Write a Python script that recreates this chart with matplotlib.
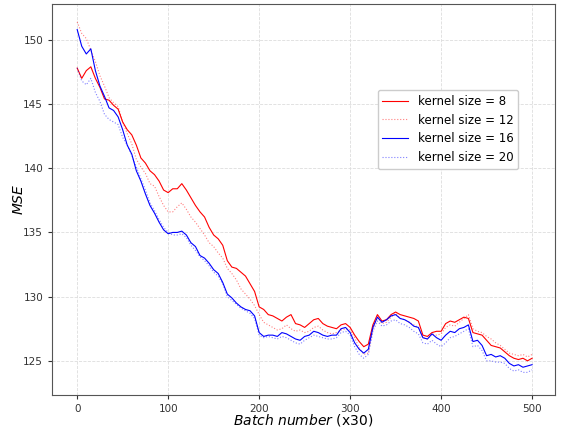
import matplotlib
matplotlib.use("Agg")
import matplotlib.pyplot as plt
import numpy as np

# batch index (x30), sampled every 5 batches
batches = list(range(0, 505, 5))

mse_k8 = [
    147.8, 147.0, 147.6, 147.9, 147.0, 146.3, 145.4, 145.3, 144.9, 144.6,
    143.6, 143.0, 142.6, 141.8, 140.8, 140.4, 139.8, 139.5, 139.0, 138.3,
    138.1, 138.4, 138.4, 138.8, 138.3, 137.7, 137.1, 136.6, 136.2, 135.4,
    134.8, 134.5, 134.0, 132.8, 132.3, 132.2, 131.9, 131.6, 131.0, 130.4,
    129.2, 129.0, 128.6, 128.5, 128.3, 128.1, 128.4, 128.6, 127.9, 127.8,
    127.6, 127.9, 128.2, 128.3, 127.9, 127.7, 127.6, 127.5, 127.8, 127.9,
    127.6, 127.0, 126.5, 126.1, 126.3, 127.8, 128.6, 128.1, 128.2, 128.6,
    128.8, 128.6, 128.5, 128.4, 128.3, 128.1, 127.0, 126.9, 127.2, 127.3,
    127.3, 127.9, 128.1, 128.0, 128.2, 128.4, 128.3, 127.2, 127.1, 127.0,
    126.6, 126.2, 126.1, 126.0, 125.7, 125.4, 125.2, 125.1, 125.2, 125.0,
    125.2,
]

mse_k12 = [
    151.4, 150.5, 150.1, 149.2, 148.3, 147.2, 146.4, 145.5, 145.1, 144.8,
    143.6, 142.7, 141.9, 140.7, 140.1, 139.6, 138.8, 138.6, 137.8, 137.1,
    136.6, 136.6, 137.0, 137.3, 136.8, 136.2, 135.8, 135.3, 134.8, 134.2,
    133.9, 133.4, 133.0, 132.2, 131.8, 131.3, 130.6, 130.2, 129.8, 129.3,
    128.6, 128.0, 127.8, 127.6, 127.4, 127.5, 127.8, 127.5, 127.3, 127.4,
    127.2, 127.3, 127.6, 127.7, 127.4, 127.2, 127.1, 127.2, 127.4, 127.5,
    127.4, 126.8, 126.0, 125.5, 125.6, 127.4, 128.4, 127.9, 128.0, 128.4,
    128.7, 128.3, 128.2, 128.0, 127.8, 127.6, 126.8, 126.7, 127.1, 127.0,
    127.1, 127.6, 127.8, 127.7, 128.0, 128.3, 128.6, 127.5, 127.3, 127.2,
    126.9, 126.7, 126.4, 126.2, 125.9, 125.6, 125.5, 125.4, 125.5, 125.3,
    125.5,
]

mse_k16 = [
    150.8, 149.5, 148.9, 149.3, 147.6, 146.4, 145.6, 144.7, 144.5, 144.0,
    143.0, 141.8, 141.1, 139.8, 139.0, 138.0, 137.1, 136.5, 135.8, 135.2,
    134.9, 135.0, 135.0, 135.1, 134.8, 134.2, 133.9, 133.2, 133.0, 132.6,
    132.1, 131.8, 131.1, 130.2, 129.9, 129.5, 129.2, 129.0, 128.9, 128.5,
    127.2, 126.9, 127.0, 127.0, 126.9, 127.2, 127.1, 126.9, 126.7, 126.6,
    126.9, 127.0, 127.3, 127.2, 127.0, 126.9, 127.0, 127.0, 127.5, 127.6,
    127.2, 126.4, 125.9, 125.6, 125.9, 127.6, 128.4, 128.0, 128.2, 128.5,
    128.6, 128.3, 128.2, 128.0, 127.7, 127.6, 126.8, 126.7, 127.1, 126.8,
    126.6, 127.0, 127.3, 127.2, 127.5, 127.6, 127.8, 126.5, 126.6, 126.2,
    125.4, 125.5, 125.3, 125.4, 125.2, 124.8, 124.6, 124.7, 124.5, 124.6,
    124.7,
]

mse_k20 = [
    147.8, 146.8, 146.5, 147.0, 145.9, 145.2, 144.2, 143.8, 143.6, 143.4,
    142.4, 141.8, 141.0, 140.1, 139.2, 138.3, 137.3, 136.7, 136.0, 135.4,
    135.0, 134.8, 134.8, 134.9, 134.6, 134.0, 133.6, 133.1, 132.8, 132.4,
    131.9, 131.6, 131.0, 130.0, 129.7, 129.4, 129.1, 128.9, 128.7, 128.3,
    127.0, 126.8, 126.9, 126.8, 126.7, 126.9, 126.8, 126.6, 126.4, 126.3,
    126.6, 126.8, 127.0, 126.9, 126.8, 126.7, 126.7, 126.8, 127.2, 127.3,
    127.0, 126.1, 125.5, 125.2, 125.5, 127.3, 128.1, 127.7, 127.8, 128.1,
    128.2, 127.9, 127.8, 127.6, 127.3, 127.1, 126.4, 126.3, 126.6, 126.3,
    126.1, 126.4, 126.8, 126.9, 127.1, 127.3, 127.5, 126.1, 126.2, 125.8,
    125.0, 125.0, 124.9, 124.9, 124.8, 124.4, 124.2, 124.3, 124.1, 124.1,
    124.3,
]

fig = plt.figure(figsize=(5.61, 4.32), dpi=100)
ax = fig.add_axes([0.093, 0.086, 0.896, 0.905])

ax.plot(batches, mse_k8, color="red", lw=0.8, label="kernel size = 8")
ax.plot(batches, mse_k12, color="red", lw=0.8, ls=":", alpha=0.5, label="kernel size = 12")
ax.plot(batches, mse_k16, color="blue", lw=0.8, label="kernel size = 16")
ax.plot(batches, mse_k20, color="blue", lw=0.8, ls=":", alpha=0.5, label="kernel size = 20")

ax.set_ylim(122.35, 152.8)
ax.set_xlim(-27.5, 525)
ax.set_xticks([0, 100, 200, 300, 400, 500])
ax.set_yticks([125, 130, 135, 140, 145, 150])
ax.grid(True, color="#dddddd", lw=0.6, ls="--")
ax.tick_params(labelsize=7.5, colors="#333333", length=3)
for s in ax.spines.values():
    s.set_color("#555555")

ax.set_xlabel(r"$Batch\ number$ (x30)", fontsize=10)
ax.set_ylabel(r"$MSE$", fontsize=10)
ax.xaxis.set_label_coords(0.5, -0.045)
ax.yaxis.set_label_coords(-0.052, 0.5)

ax.legend(loc="upper left", bbox_to_anchor=(0.636, 0.795), fontsize=8.5,
          framealpha=1, edgecolor="#cccccc", handlelength=2.2)

fig.savefig("out.png", dpi=100)
